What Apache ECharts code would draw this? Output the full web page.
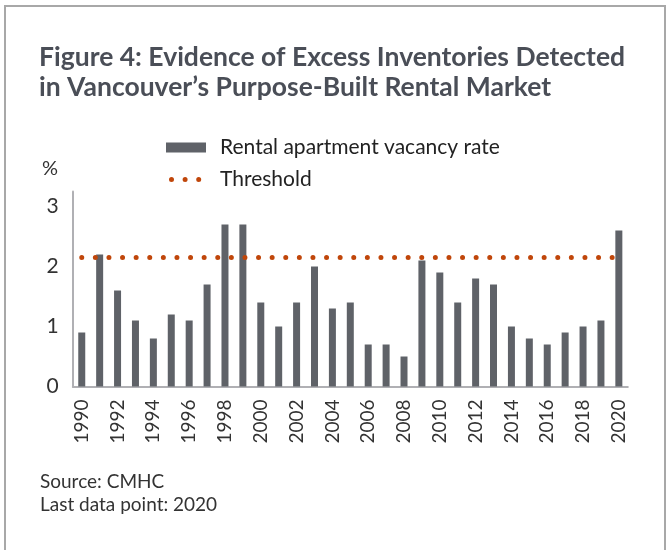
<!DOCTYPE html>
<html><head><meta charset="utf-8">
<script src="https://cdn.jsdelivr.net/npm/echarts@6/dist/echarts.min.js"></script>
<style>html,body{margin:0;padding:0;background:#fff}#c{width:667px;height:550px}</style>
</head><body><div id="c"></div>
<script>
const years = ["1990","1991","1992","1993","1994","1995","1996","1997","1998","1999","2000","2001","2002","2003","2004","2005","2006","2007","2008","2009","2010","2011","2012","2013","2014","2015","2016","2017","2018","2019","2020"];
const vacancyRate = [0.9,2.2,1.6,1.1,0.8,1.2,1.1,1.7,2.7,2.7,1.4,1.0,1.4,2.0,1.3,1.4,0.7,0.7,0.5,2.1,1.9,1.4,1.8,1.7,1.0,0.8,0.7,0.9,1.0,1.1,2.6];
const threshold = [["1990", 2.15], ["2020", 2.15]];
const yTicks = [0, 1, 2, 3];

const FONT = 'Lato';
const chart = echarts.init(document.getElementById('c'), null, {renderer: 'canvas'});
const dotPath = 'path://M0,2.5a2.5,2.5 0 1,0 5,0a2.5,2.5 0 1,0 -5,0Z M13.6,2.5a2.5,2.5 0 1,0 5,0a2.5,2.5 0 1,0 -5,0Z M27.2,2.5a2.5,2.5 0 1,0 5,0a2.5,2.5 0 1,0 -5,0Z';
chart.setOption({
  animation: false,
  backgroundColor: '#fff',
  textStyle: {fontFamily: FONT},
  title: [
    {text: 'Figure 4: Evidence of Excess Inventories Detected\nin Vancouver\u2019s Purpose-Built Rental Market', left: 39, top: 42, padding: 0,
     textStyle: {fontFamily: FONT, fontWeight: 'bold', fontSize: 26.5, color: '#4a4e57', lineHeight: 30}},
    {text: 'Source: CMHC\nLast data point: 2020', left: 40, top: 470, padding: 0,
     textStyle: {fontFamily: FONT, fontWeight: 'normal', fontSize: 19, color: '#333', lineHeight: 23.5}},
    {text: '%', left: 42, top: 159, padding: 0,
     textStyle: {fontFamily: FONT, fontWeight: 'normal', fontSize: 20, color: '#333'}}
  ],
  legend: [
    {data: ['Rental apartment vacancy rate'], left: 166, top: 137, padding: 0, itemWidth: 40, itemHeight: 10,
     icon: 'rect', textStyle: {fontFamily: FONT, fontSize: 21, color: '#222', padding: [0,0,0,9]}},
    {data: [{name: 'Threshold', icon: dotPath}], left: 169, top: 169, padding: 0, itemWidth: 32.2, itemHeight: 5,
     itemStyle: {color: '#c0460a'},
     textStyle: {fontFamily: FONT, fontSize: 21, color: '#222', padding: [0,0,0,13.8]}}
  ],
  grid: {left: 72.8, right: 39.2, top: 191.5, bottom: 163.5, containLabel: false},
  xAxis: {
    type: 'category', data: years, boundaryGap: true,
    axisLine: {lineStyle: {color: '#b0b0b4', width: 2}},
    axisTick: {show: false},
    axisLabel: {interval: 1, rotate: 90, fontSize: 19, color: '#333', margin: 13, fontFamily: FONT}
  },
  yAxis: {
    type: 'value', min: 0, max: 3.25, interval: 1,
    splitLine: {show: false},
    axisLine: {show: true, lineStyle: {color: '#b0b0b4', width: 2}},
    axisTick: {show: false},
    axisLabel: {fontSize: 21, color: '#333', margin: 14, fontFamily: FONT,
      formatter: v => yTicks.indexOf(v) >= 0 ? String(v) : ''}
  },
  series: [
    {name: 'Rental apartment vacancy rate', type: 'bar', data: vacancyRate, barWidth: 7,
     itemStyle: {color: '#5f6268'}},
    {name: 'Threshold', type: 'line', data: threshold, symbol: 'none', z: 3,
     itemStyle: {color: '#c0460a'},
     lineStyle: {color: '#c0460a', width: 5, type: [0, 13.6], cap: 'round'}}
  ],
  graphic: [
    {type: 'rect', shape: {x: 5, y: 6, width: 660, height: 560}, silent: true,
     style: {fill: 'none', stroke: '#a8a8a8', lineWidth: 2}}
  ]
});
</script></body></html>
